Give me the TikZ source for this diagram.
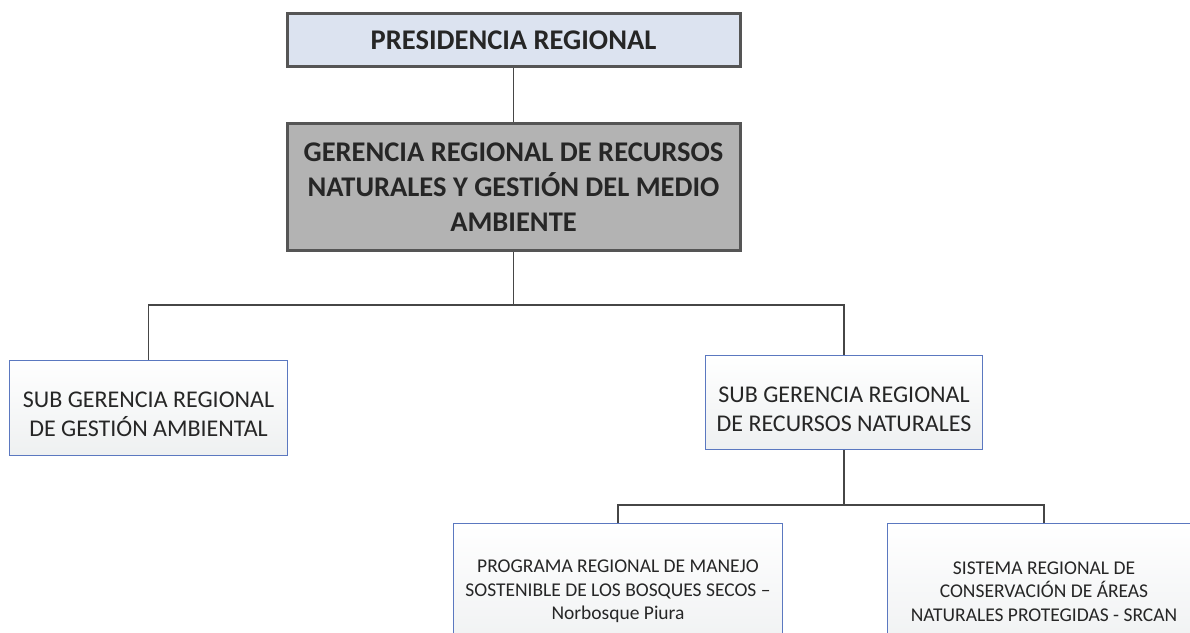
\documentclass[tikz,border=0pt]{standalone}
\usepackage{fontspec}
\setmainfont{Carlito}
\usepackage{tikz}
\usetikzlibrary{positioning, calc}
\definecolor{ORGLine}{RGB}{70,70,70}
\definecolor{ORGBorder}{RGB}{85,85,85}
\definecolor{ORGTop}{RGB}{220,227,240}
\definecolor{ORGGray}{RGB}{179,179,179}
\definecolor{ORGBlue}{RGB}{91,120,192}
\definecolor{ORGShade}{RGB}{238,240,241}
\definecolor{ORGText}{RGB}{38,38,38}

\begin{document}
\begin{tikzpicture}[x=1pt, y=-1pt,
      head/.style={rectangle, draw=ORGBorder, line width=3pt,
                   minimum width=453pt, align=center, text=ORGText,
                   font=\fontsize{28.5}{35}\selectfont\bfseries},
      sub/.style={rectangle, draw=ORGBlue, line width=1.3pt,
                  top color=white, bottom color=ORGShade,
                  align=center, text=ORGText,
                  font=\fontsize{24}{29}\selectfont},
      prog/.style={sub, anchor=north, minimum height=136pt,
                   font=\fontsize{19.5}{23.5}\selectfont},
      conn/.style={draw=ORGLine, line width=1.9pt}
    ]
    \clip (0,0) rectangle (1190,632);

    % Top level
    \node[head, fill=ORGTop, minimum height=53pt]
          (pres) at (513.5, 40) {PRESIDENCIA REGIONAL};
    \node[head, fill=ORGGray, minimum height=127pt]
          (ger) at (513.5, 187)
          {GERENCIA REGIONAL DE RECURSOS\\NATURALES Y GESTIÓN DEL MEDIO\\AMBIENTE};
    \draw[conn] (pres) -- (ger);

    % Sub gerencias
    \node[sub, minimum width=278pt, minimum height=95pt]
          (subamb) at (148.5, 408)
          {\rule{0pt}{29pt}SUB GERENCIA REGIONAL\\DE GESTIÓN AMBIENTAL};
    \node[sub, minimum width=277pt, minimum height=94pt]
          (subrec) at (844, 402.5)
          {\rule{0pt}{29pt}SUB GERENCIA REGIONAL\\DE RECURSOS NATURALES};
    \draw[conn] (ger.south) -- ++(0,53) -| (subamb.north);
    \draw[conn] (ger.south) -- ++(0,53) -| (subrec.north);

    % Programas (cut by the page edge)
    \node[prog, minimum width=329pt]
          (prog) at (618, 523)
          {PROGRAMA REGIONAL DE MANEJO\\SOSTENIBLE DE LOS BOSQUES SECOS –\\Norbosque Piura};
    \node[prog, minimum width=313pt]
          (sist) at (1044, 523)
          {SISTEMA REGIONAL DE\\CONSERVACIÓN DE ÁREAS\\NATURALES PROTEGIDAS - SRCAN};
    \draw[conn] (subrec.south) -- ++(0,55) -| (prog.north);
    \draw[conn] (subrec.south) -- ++(0,55) -| (sist.north);
  \end{tikzpicture}
\end{document}
